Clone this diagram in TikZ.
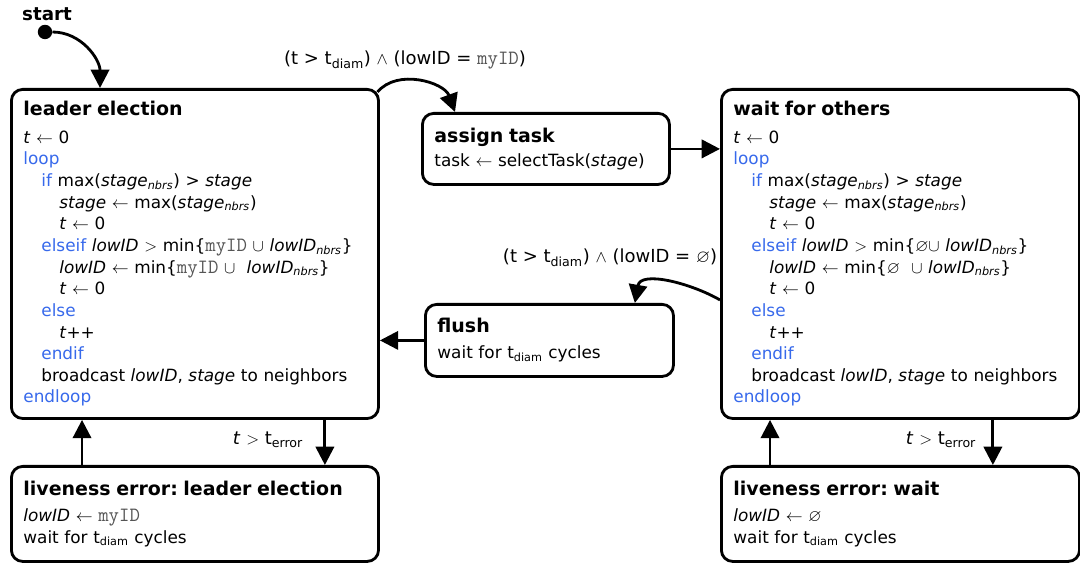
\documentclass[tikz,border=0pt]{standalone}
\usepackage{amssymb}
\usepackage{fontspec}
\setmainfont{DejaVu Sans}
\usetikzlibrary{arrows.meta,calc}
\definecolor{kwblue}{RGB}{55,105,235}
\definecolor{idgray}{RGB}{85,85,85}
\newcommand{\kw}[1]{\textcolor{kwblue}{#1}}
\newcommand{\ind}{\hspace*{0.45cm}}
\newcommand{\myid}{\textcolor{idgray}{\fontsize{14.4}{15.4}\selectfont\ttfamily myID}}
\newcommand{\nbrs}{\textsubscript{\itshape nbrs}}
\newcommand{\tdiam}{t\textsubscript{diam}}
\newcommand{\terr}{t\textsubscript{error}}
\newcommand{\ttl}[1]{{\bfseries\fontsize{13.5}{16}\selectfont #1}}
\frenchspacing

\begin{document}
\begin{tikzpicture}[x=0.025cm, y=0.025cm,
    state/.style={draw, line width=2pt, rounded corners=8pt,
                  anchor=north west, align=left, inner xsep=0.3cm,
                  font=\fontsize{12}{15.4}\selectfont},
    arr/.style={-{Triangle[length=13pt,width=13pt]}, line width=2pt},
    cond/.style={font=\fontsize{12.8}{15}\selectfont}]

    \useasboundingbox (0,0) rectangle (1080,-563);

    % Zustaende
    \node[state, text width=8.575cm, minimum height=8.225cm] (le) at (10,-88)
        {\ttl{leader election}\\[4pt]
         \textit{t} $\leftarrow$ 0\\
         \kw{loop}\\
         \ind\kw{if} max(\textit{stage}\nbrs) > \textit{stage}\\
         \ind\ind\textit{stage} $\leftarrow$ max(\textit{stage}\nbrs)\\
         \ind\ind\textit{t} $\leftarrow$ 0\\
         \ind\kw{elseif} \textit{lowID} $>$ min\{\myid{} $\cup$ \textit{lowID}\nbrs\}\\
         \ind\ind\textit{lowID} $\leftarrow$ min\{\myid{} $\cup$ \ \textit{lowID}\nbrs\}\\
         \ind\ind\textit{t} $\leftarrow$ 0\\
         \ind\kw{else}\\
         \ind\ind\textit{t}++\\
         \ind\kw{endif}\\
         \ind broadcast \textit{lowID}, \textit{stage} to neighbors\\
         \kw{endloop}};
    \node[state, text width=5.575cm, minimum height=1.775cm] (at) at (421,-112)
        {\ttl{assign task}\\[2pt]
         task $\leftarrow$ selectTask(\textit{stage})};
    \node[state, text width=8.35cm, minimum height=8.225cm] (wo) at (720,-88)
        {\ttl{wait for others}\\[4pt]
         \textit{t} $\leftarrow$ 0\\
         \kw{loop}\\
         \ind\kw{if} max(\textit{stage}\nbrs) > \textit{stage}\\
         \ind\ind\textit{stage} $\leftarrow$ max(\textit{stage}\nbrs)\\
         \ind\ind\textit{t} $\leftarrow$ 0\\
         \ind\kw{elseif} \textit{lowID} $>$ min\{$\varnothing\cup$ \textit{lowID}\nbrs\}\\
         \ind\ind\textit{lowID} $\leftarrow$ min\{$\varnothing$ \ $\cup$ \textit{lowID}\nbrs\}\\
         \ind\ind\textit{t} $\leftarrow$ 0\\
         \ind\kw{else}\\
         \ind\ind\textit{t}++\\
         \ind\kw{endif}\\
         \ind broadcast \textit{lowID}, \textit{stage} to neighbors\\
         \kw{endloop}};
    \node[state, text width=5.6cm, minimum height=1.8cm] (fl) at (424,-303)
        {\ttl{flush}\\[3pt]
         wait for \tdiam{} cycles};
    \node[state, text width=8.575cm, minimum height=2.375cm] (lel) at (10,-465)
        {\ttl{liveness error: leader election}\\[3pt]
         \textit{lowID} $\leftarrow$ \myid\\
         wait for \tdiam{} cycles};
    \node[state, text width=8.35cm, minimum height=2.375cm] (lew) at (720,-465)
        {\ttl{liveness error: wait}\\[3pt]
         \textit{lowID} $\leftarrow$ $\varnothing$\\
         wait for \tdiam{} cycles};

    % Start
    \node[circle, fill, inner sep=0pt, minimum size=0.36cm] (st) at (45,-32) {};
    \node[font=\bfseries\fontsize{13}{15}\selectfont] (stl) at (47,-14) {start};
    \draw[arr] (st) to[out=0, in=90] ([xshift=2.25cm]le.north west);

    % Bedingungen
    \node[cond] (c1) at (405,-60)
        {(t > \tdiam) $\wedge$ (lowID = \myid)};
    \node[cond] (c2) at (610,-258)
        {(t > \tdiam) $\wedge$ (lowID = $\varnothing$)};
    \node[cond] (e1) at (268,-440) {\textit{t} $>$ \terr};
    \node[cond] (e2) at (941,-440) {\textit{t} $>$ \terr};

    % Uebergaenge
    \draw[arr] ([xshift=-0.06cm,yshift=-0.1cm]le.north east)
        to[out=50, in=110] ([xshift=0.85cm]at.north west);
    \draw[arr] (at.east) -- (at.east -| wo.west);
    \draw[arr] ([yshift=-1.15cm]wo.west)
        to[out=150, in=80] ([xshift=-1cm]fl.north east);
    \draw[arr] (fl.west) -- (fl.west -| le.east);

    % Fehlerzustaende
    \draw[arr] ([xshift=-1.375cm]le.south east)
        -- ([xshift=-1.375cm]le.south east |- lel.north);
    \draw[arr] ([xshift=1.8cm]lel.north west)
        -- ([xshift=1.8cm]lel.north west |- le.south);
    \draw[arr] ([xshift=-2.2cm]wo.south east)
        -- ([xshift=-2.2cm]wo.south east |- lew.north);
    \draw[arr] ([xshift=1.25cm]lew.north west)
        -- ([xshift=1.25cm]lew.north west |- wo.south);

\end{tikzpicture}
\end{document}
